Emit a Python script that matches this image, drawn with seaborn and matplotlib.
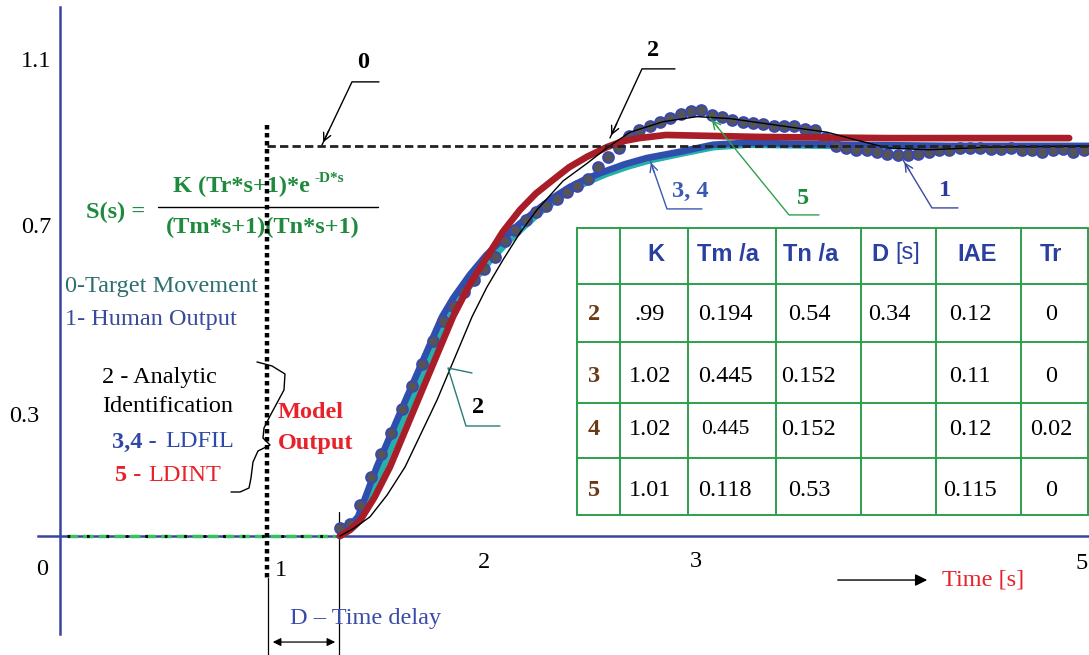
import numpy as np
import matplotlib
matplotlib.use("Agg")
import matplotlib.pyplot as plt
import seaborn as sns

# ---- data (time in s, response relative to target) ----
human_t = np.round(np.arange(1.35, 4.96, 0.05), 2)
human_y = [0.02, 0.03, 0.08, 0.15, 0.21, 0.265, 0.325, 0.385, 0.44, 0.50,
           0.55, 0.59, 0.625, 0.655, 0.685, 0.715, 0.755, 0.785, 0.81, 0.83,
           0.846, 0.865, 0.882, 0.898, 0.915, 0.945, 0.972, 0.995, 1.025, 1.04,
           1.05, 1.062, 1.072, 1.082, 1.09, 1.092, 1.08, 1.075, 1.067, 1.06,
           1.058, 1.055, 1.052, 1.05, 1.05, 1.043, 1.04, 1.02, 1.0, 0.995,
           0.99, 0.99, 0.985, 0.98, 0.977, 0.977, 0.98, 0.985, 0.99, 0.99,
           0.995, 0.995, 0.995, 0.993, 0.993, 0.995, 0.99, 0.99, 0.985, 0.99,
           0.992, 0.985, 0.99]

analytic_t = [1.352, 1.42, 1.497, 1.58, 1.667, 1.822, 1.991, 2.063, 2.141, 2.223,
              2.305, 2.431, 2.547, 2.644, 2.755, 2.915, 3.08, 3.24, 3.40, 3.56,
              3.71, 3.85, 4.0, 4.2, 4.5, 4.976]
analytic_y = [0.0, 0.02, 0.049, 0.105, 0.177, 0.349, 0.562, 0.638, 0.708, 0.777,
              0.836, 0.91, 0.955, 0.995, 1.035, 1.062, 1.075, 1.07, 1.058, 1.046,
              1.035, 1.015, 0.995, 0.99, 0.997, 1.0]

ldfil3_t = [1.352, 1.40, 1.44, 1.53, 1.67, 1.77, 1.846, 1.90, 1.981, 2.06,
            2.141, 2.22, 2.305, 2.385, 2.465, 2.545, 2.625, 2.73, 2.837, 2.997,
            3.157, 3.32, 3.8, 4.3, 4.976]
ldfil3_y = [0.0, 0.025, 0.05, 0.177, 0.349, 0.47, 0.562, 0.61, 0.67, 0.72,
            0.762, 0.8, 0.836, 0.868, 0.895, 0.916, 0.933, 0.953, 0.969, 0.985,
            1.003, 1.008, 1.003, 1.0, 1.0]

ldfil4_t = [1.352, 1.41, 1.45, 1.55, 1.69, 1.79, 1.87, 1.93, 2.0, 2.08,
            2.16, 2.24, 2.32, 2.40, 2.48, 2.56, 2.64, 2.75, 2.85, 3.0,
            3.16, 3.32, 3.8, 4.3, 4.976]
ldfil4_y = [0.0, 0.02, 0.04, 0.165, 0.34, 0.465, 0.555, 0.605, 0.655, 0.707,
            0.752, 0.792, 0.83, 0.862, 0.89, 0.91, 0.928, 0.948, 0.963, 0.98,
            0.997, 1.003, 1.0, 0.998, 0.998]

ldint_t = [1.352, 1.40, 1.45, 1.52, 1.594, 1.73, 1.899, 1.98, 2.063, 2.14,
           2.223, 2.30, 2.383, 2.46, 2.547, 2.644, 2.72, 2.80, 2.93, 3.38,
           4.0, 4.88]
ldint_y = [0.0, 0.015, 0.04, 0.1, 0.177, 0.349, 0.562, 0.645, 0.715, 0.78,
           0.836, 0.878, 0.913, 0.945, 0.972, 0.997, 1.012, 1.02, 1.028, 1.023,
           1.02, 1.02]

target_t = [1.0, 4.976]
target_y = [1.0, 1.0]
rest_t = [0.03, 1.33]
rest_y = [0.0, 0.0]

table_header = ["K", "Tm /a", "Tn /a", "D", "IAE", "Tr"]
table_rows = ["2", "3", "4", "5"]
k_vals = [".99", "1.02", "1.02", "1.01"]
tm_vals = ["0.194", "0.445", "0.445", "0.118"]
tn_vals = ["0.54", "0.152", "0.152", "0.53"]
d_vals = ["0.34", "", "", ""]
iae_vals = ["0.12", "0.11", "0.12", "0.115"]
tr_vals = ["0", "0", "0.02", "0"]

# ---- colours ----
AXIS_BLUE = "#3a45a0"
BLUE = "#2f4fae"
CYAN = "#25b0aa"
RED = "#a81d27"
GREEN = "#1f8a3e"
TGREEN = "#2ea04c"
BRIGHT_RED = "#e8222a"
BROWN = "#6b3a14"
HEAD_BLUE = "#2a40a0"

sns.set_style("white")
plt.rcParams["font.family"] = ["Liberation Serif", "DejaVu Serif"]
FS = 17.5

fig = plt.figure(figsize=(10.89, 6.55), dpi=100)
ax = fig.add_axes([0, 0, 1, 1])
ax.set_xlim(-0.2927, 4.976)
ax.set_ylim(-0.305, 1.374)


def P(px, py):
    # pixel position of the reference -> data coordinates
    return (px - 60.5) / 206.7, (536 - py) / 390.0


# axes through the origin
for s in ["top", "right"]:
    ax.spines[s].set_visible(False)
ax.spines["left"].set_position(("data", 0))
ax.spines["bottom"].set_position(("data", 0))
ax.spines["left"].set_bounds(-0.25, 1.356)
ax.spines["bottom"].set_bounds(-0.11, 4.976)
for s in ["left", "bottom"]:
    ax.spines[s].set_color(AXIS_BLUE)
    ax.spines[s].set_linewidth(1.8)
ax.set_xticks([1, 2, 3, 4])
ax.set_yticks([-0.2, 0.2, 0.4, 0.6, 0.8, 1.0, 1.2])
ax.tick_params(axis="x", direction="inout", length=13, width=1.5, color=AXIS_BLUE, labelbottom=False)
ax.tick_params(axis="y", direction="inout", length=6, width=1.5, color=AXIS_BLUE, labelleft=False)
ax.set_xlabel("")
ax.set_ylabel("")

# tick labels as they appear in the picture
for lab, px, py in [("1.1", 36, 62), ("0.7", 36, 228), ("0.3", 24, 417), ("0", 42, 569),
                    ("1", 281, 570), ("2", 484, 562), ("3", 696, 561), ("5", 1082, 563)]:
    ax.text(*P(px, py), lab, fontsize=FS, ha="center", va="center", color="black")

# ---- curves ----
sns.lineplot(x=rest_t, y=rest_y, ax=ax, color="#3ac060", lw=2.5, linestyle=(0, (3, 1.5)), zorder=3)
sns.lineplot(x=rest_t, y=rest_y, ax=ax, color="black", lw=2.0, linestyle=(0, (1, 6)), zorder=3)
sns.lineplot(x=ldfil4_t, y=ldfil4_y, ax=ax, color=CYAN, lw=4.8, zorder=3)
sns.lineplot(x=ldfil3_t, y=ldfil3_y, ax=ax, color=BLUE, lw=4.8, zorder=4)
sns.scatterplot(x=human_t, y=human_y, ax=ax, s=60, color="#555555", edgecolor="#3a48b0",
                linewidth=1.4, zorder=4.5, legend=False)
sns.lineplot(x=ldint_t, y=ldint_y, ax=ax, color=RED, lw=4.8, zorder=5)
sns.lineplot(x=analytic_t, y=analytic_y, ax=ax, color="black", lw=1.0, zorder=6)
sns.lineplot(x=target_t, y=target_y, ax=ax, color="#222222", lw=2.0, linestyle=(0, (3, 1.5)), zorder=7)

# dotted line at step time, delay markers
ax.plot([1.0, 1.0], [P(0, 125)[1], P(0, 578)[1]], color="black", lw=3.2, linestyle=(0, (1, 0.8)), zorder=8)
ax.plot(*zip(P(268, 578), P(268, 655)), color="black", lw=0.9)
ax.plot(*zip(P(339, 512), P(339, 655)), color="black", lw=0.9)
ax.annotate("", xy=P(270, 642), xytext=P(338, 642),
            arrowprops=dict(arrowstyle="<|-|>", color="black", lw=0.9, mutation_scale=12))
ax.text(*P(290, 618), "D \u2013 Time delay", fontsize=FS, color="#3a4aa8", ha="left", va="center")

ax.annotate("", xy=P(930, 580), xytext=P(835, 580),
            arrowprops=dict(arrowstyle="-|>", color="black", lw=1.0, mutation_scale=18))
ax.text(*P(942, 580), "Time [s]", fontsize=FS, color=BRIGHT_RED, ha="left", va="center")

# ---- formula ----
ax.text(*P(116, 213), "S(s) =", fontsize=FS, fontweight="bold", color=GREEN, ha="center", va="center")
ax.text(*P(173, 187), "K (Tr*s+1)*e", fontsize=FS, fontweight="bold", color=GREEN, ha="left", va="center")
ax.text(*P(315, 179), "-D*s", fontsize=11, fontweight="bold", color=GREEN, ha="left", va="center")
ax.plot(*zip(P(158, 207), P(378, 207)), color="black", lw=1.0)
ax.text(*P(263, 228), "(Tm*s+1)(Tn*s+1)", fontsize=FS, fontweight="bold", color=GREEN, ha="center", va="center")

# ---- legend texts ----
ax.text(*P(65, 287), "0-Target Movement", fontsize=FS, color="#2e6e70", ha="left", va="center")
ax.text(*P(65, 320), "1- Human Output", fontsize=FS, color="#3a4a9a", ha="left", va="center")
ax.text(*P(102, 378), "2 - Analytic", fontsize=FS, color="black", ha="left", va="center")
ax.text(*P(102, 407), "Identification", fontsize=FS, color="black", ha="left", va="center")
ax.text(*P(112, 442), "3,4 -", fontsize=FS, fontweight="bold", color="#2f48a8", ha="left", va="center")
ax.text(*P(165, 442), "LDFIL", fontsize=FS, color="#2f48a8", ha="left", va="center")
ax.text(*P(115, 476), "5 -", fontsize=FS, fontweight="bold", color=BRIGHT_RED, ha="left", va="center")
ax.text(*P(148, 476), "LDINT", fontsize=FS, color=BRIGHT_RED, ha="left", va="center")
ax.text(*P(278, 413), "Model", fontsize=FS, fontweight="bold", color=BRIGHT_RED, ha="left", va="center")
ax.text(*P(278, 444), "Output", fontsize=FS, fontweight="bold", color=BRIGHT_RED, ha="left", va="center")

brace = [(257, 362), (272, 366), (285, 374), (284, 390), (277, 403), (270, 416), (264, 428),
         (263, 438), (270, 445), (258, 451), (253, 462), (251, 478), (249, 488), (240, 492), (231, 492)]
bx, by = zip(*[P(a, b) for a, b in brace])
ax.plot(bx, by, color="black", lw=1.0)


# ---- curve labels with leaders ----
def leader(pts, color, lw=1.0):
    xs, ys = zip(*[P(a, b) for a, b in pts])
    ax.plot(xs, ys, color=color, lw=lw, zorder=9)


def head(tip, frm, color):
    ax.annotate("", xy=P(*tip), xytext=P(*frm),
                arrowprops=dict(arrowstyle="->", color=color, lw=1.0, mutation_scale=14), zorder=9)


leader([(379, 82), (352, 82), (322, 145)], "black")
head((322, 145), (330, 128), "black")
ax.text(*P(363, 63), "0", fontsize=FS, fontweight="bold", color="black", ha="center", va="center")

leader([(675, 69), (642, 69), (610, 138)], "black")
head((610, 138), (618, 121), "black")
ax.text(*P(653, 51), "2", fontsize=FS, fontweight="bold", color="black", ha="center", va="center")

leader([(702, 209), (667, 209), (650, 160)], "#3a5ab0")
head((650, 160), (655, 175), "#3a5ab0")
ax.text(*P(690, 192), "3, 4", fontsize=FS, fontweight="bold", color="#3a5ab0", ha="center", va="center")

leader([(819, 215), (789, 215), (710, 118)], TGREEN)
head((710, 118), (720, 130), TGREEN)
ax.text(*P(803, 199), "5", fontsize=FS, fontweight="bold", color=GREEN, ha="center", va="center")

leader([(958, 208), (932, 208), (903, 160)], "#3a48a0")
head((903, 160), (911, 173), "#3a48a0")
ax.text(*P(945, 191), "1", fontsize=FS, fontweight="bold", color="#2a3a98", ha="center", va="center")

leader([(500, 426), (466, 426), (448, 368), (472, 373)], "#2a7a7a")
ax.text(*P(478, 408), "2", fontsize=FS, fontweight="bold", color="black", ha="center", va="center")

# ---- parameter table ----
col_px = [577, 620, 688, 776, 861, 936, 1021, 1088]
row_px = [228, 284, 342, 403, 458, 515]
rect_bg = plt.Rectangle(P(577, 515), P(1088, 0)[0] - P(577, 0)[0], P(0, 228)[1] - P(0, 515)[1],
                        facecolor="white", edgecolor="none", zorder=9.5)
ax.add_patch(rect_bg)
for c in col_px:
    ax.plot(*zip(P(c, 228), P(c, 515)), color=TGREEN, lw=1.4, zorder=10)
for r in row_px:
    ax.plot(*zip(P(577, r), P(1088, r)), color=TGREEN, lw=1.4, zorder=10)

head_x = [656, 728, 811, 880, 977, 1051]
for lab, hx in zip(table_header, head_x):
    ax.text(*P(hx, 255), lab, fontsize=17, fontweight="bold", color=HEAD_BLUE,
            family="Liberation Sans", ha="center", va="center", zorder=11)
ax.text(*P(908, 253), "[s]", fontsize=17, color=HEAD_BLUE, family="Liberation Sans",
        ha="center", va="center", zorder=11)

cell_x = [650, 725, 809, 889, 970, 1051]
row_y = [315, 377, 430, 490]
columns = [k_vals, tm_vals, tn_vals, d_vals, iae_vals, tr_vals]
for i, (lab, ry) in enumerate(zip(table_rows, row_y)):
    ax.text(*P(594, ry), lab, fontsize=FS, fontweight="bold", color=BROWN, ha="center", va="center", zorder=11)
    for cx, col in zip(cell_x, columns):
        fs = 15.5 if (col is tm_vals and i == 2) else FS
        ax.text(*P(cx, ry), col[i], fontsize=fs, color="black", ha="center", va="center", zorder=11)

fig.savefig("out.png", dpi=100)
